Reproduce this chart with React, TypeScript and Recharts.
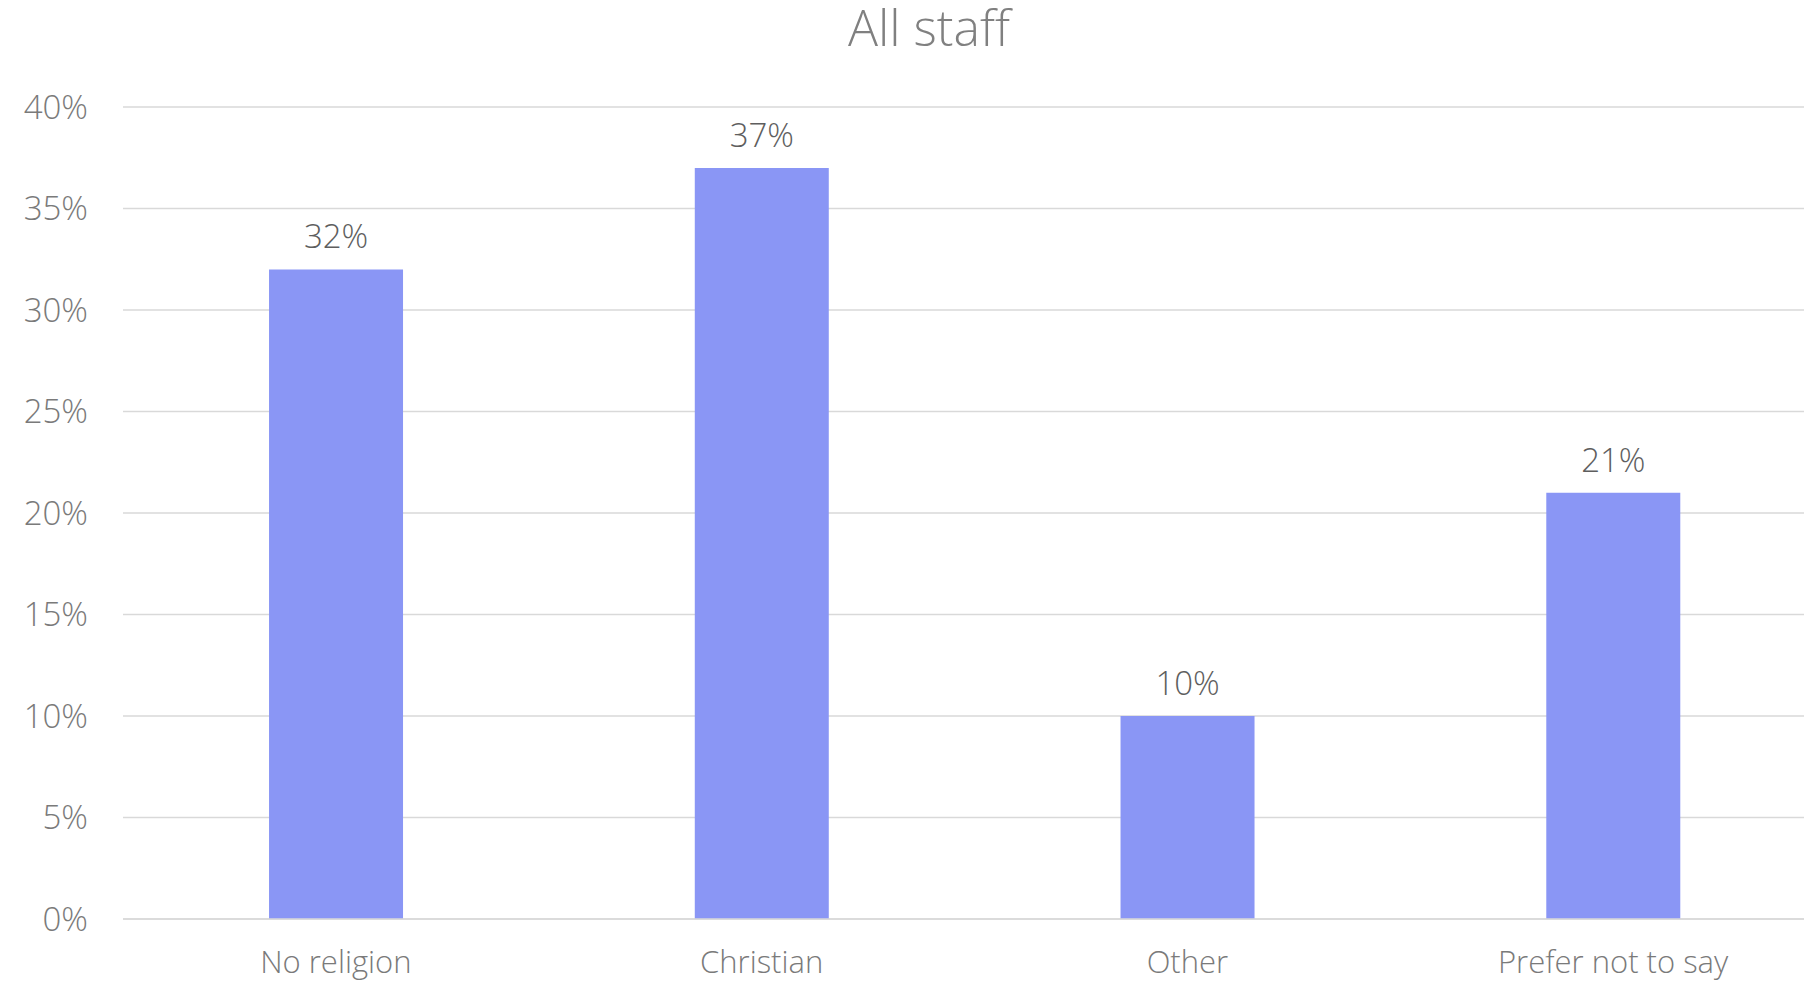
import React from 'react';
import { BarChart, Bar, XAxis, YAxis, CartesianGrid, LabelList } from 'recharts';

const categories = ['No religion', 'Christian', 'Other', 'Prefer not to say'];
const shares = [32, 37, 10, 21];
const yTicks = [0, 5, 10, 15, 20, 25, 30, 35, 40];

const data = categories.map((name, i) => ({ name, share: shares[i] }));

const FONT = '"Open Sans", sans-serif';

const App: React.FC = () => {
  return (
    <div
      style={{
        position: 'absolute',
        left: 0,
        top: 0,
        width: 1804,
        height: 984,
        overflow: 'hidden',
        background: '#ffffff',
        fontFamily: FONT,
      }}
    >
      <BarChart
        width={1830}
        height={984}
        data={data}
        margin={{ top: 107, right: 4, bottom: 0, left: 0 }}
        barCategoryGap="34.3%"
        style={{ position: 'absolute', left: 0, top: 0 }}
      >
        <CartesianGrid vertical={false} stroke="#d9d9d9" strokeWidth={1.5} />
        <XAxis
          dataKey="name"
          height={65}
          tickLine={false}
          tickSize={0}
          tickMargin={32}
          axisLine={{ stroke: '#d9d9d9', strokeWidth: 1.5 }}
          tick={{ fontSize: 31, fill: '#7a7a7a', fontFamily: FONT, fontWeight: 300 }}
          interval={0}
        />
        <YAxis
          width={123}
          domain={[0, 40]}
          ticks={yTicks}
          tickFormatter={(v: number) => `${v}%`}
          axisLine={false}
          tickLine={false}
          tickSize={0}
          tickMargin={35}
          tick={{ fontSize: 33, fill: '#7a7a7a', fontFamily: FONT, fontWeight: 300 }}
        />
        <Bar dataKey="share" fill="#8a96f5" isAnimationActive={false}>
          <LabelList
            dataKey="share"
            position="top"
            offset={21}
            formatter={(v: number) => `${v}%`}
            style={{ fontSize: 33, fill: '#5e5e5e', fontFamily: FONT, fontWeight: 300 }}
          />
        </Bar>
      </BarChart>
      <div
        style={{
          position: 'absolute',
          left: 729,
          top: 2,
          width: 400,
          textAlign: 'center',
          fontSize: 50,
          lineHeight: '50px',
          fontWeight: 300,
          color: '#808080',
          whiteSpace: 'nowrap',
        }}
      >
        All staff
      </div>
    </div>
  );
};

export default App;
